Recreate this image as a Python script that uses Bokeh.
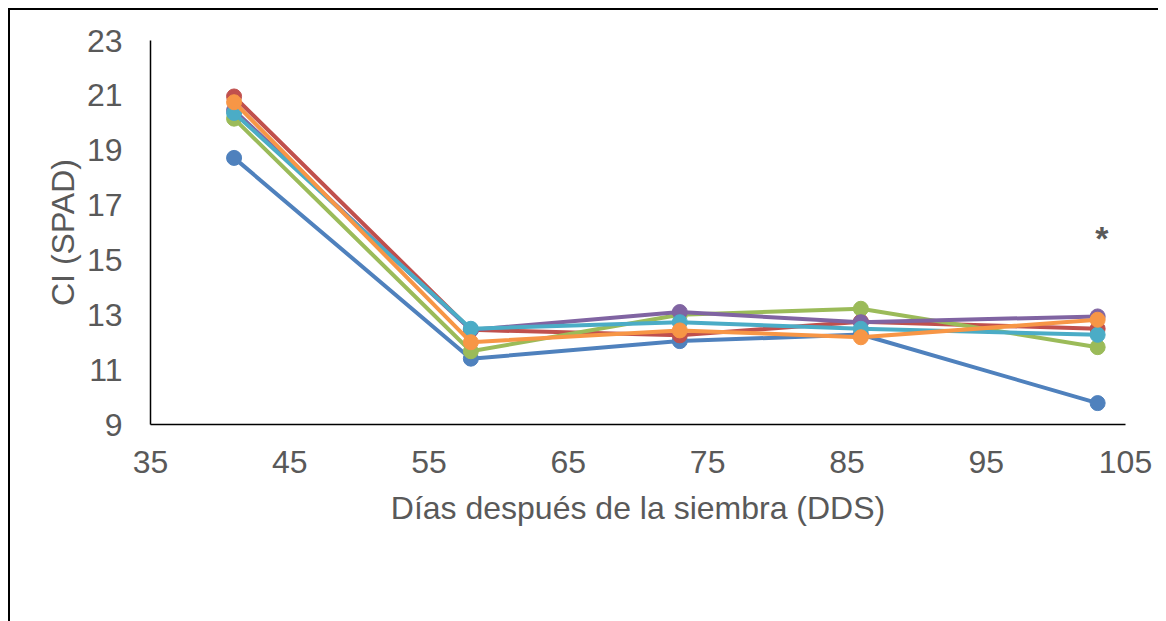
from bokeh.plotting import figure
from bokeh.models import Legend, LegendItem, FixedTicker, Range1d, ColumnDataSource
from bokeh.core.properties import value
from bokeh.embed import file_html
from bokeh.resources import INLINE

# ---- data ----
dds = [41, 58, 73, 86, 103]
series_names = ["T1", "T2", "T3", "T4", "T5", "T6"]
t1 = [18.72, 11.40, 12.04, 12.28, 9.78]
t2 = [20.96, 12.45, 12.25, 12.75, 12.49]
t3 = [20.15, 11.67, 13.00, 13.22, 11.82]
t4 = [20.45, 12.45, 13.10, 12.73, 12.94]
t5 = [20.36, 12.49, 12.73, 12.49, 12.27]
t6 = [20.75, 12.00, 12.43, 12.18, 12.82]
series_values = [t1, t2, t3, t4, t5, t6]
colors = ["#4F81BD", "#C0504D", "#9BBB59", "#8064A2", "#4BACC6", "#F79646"]
x_ticks = [35, 45, 55, 65, 75, 85, 95, 105]
y_ticks = [9, 11, 13, 15, 17, 19, 21, 23]
star_x = [103.3]
star_y = [15.8]
star_text = ["*"]

FONT = "Liberation Sans"
GRAY = "#595959"

p = figure(width=1148, height=603, output_backend="svg", toolbar_location=None,
           x_range=Range1d(35, 105), y_range=Range1d(9, 23),
           min_border_left=140, min_border_right=33, min_border_top=30,
           min_border_bottom=10)
p.frame_width = 975
p.frame_height = 384
p.styles = {"border-left": "2px solid #000000", "border-top": "2px solid #000000",
            "margin-left": "8px", "margin-top": "8px"}

p.xgrid.visible = False
p.ygrid.visible = False
p.outline_line_color = None
p.background_fill_color = "white"
p.border_fill_color = "white"

for ax in (p.xaxis[0], p.yaxis[0]):
    ax.major_tick_line_color = None
    ax.minor_tick_line_color = None
    ax.axis_line_color = "black"
    ax.axis_line_width = 1.5
    ax.major_label_text_font = FONT
    ax.major_label_text_font_size = "32px"
    ax.major_label_text_color = GRAY
    ax.axis_label_text_font = FONT
    ax.axis_label_text_font_size = "32px"
    ax.axis_label_text_color = GRAY
    ax.axis_label_text_font_style = "normal"

p.xaxis.ticker = FixedTicker(ticks=x_ticks)
p.yaxis.ticker = FixedTicker(ticks=y_ticks)
p.xaxis.axis_label = "Días después de la siembra (DDS)"
p.yaxis.axis_label = "CI (SPAD)"
p.xaxis.major_label_standoff = 20
p.xaxis.axis_label_standoff = 14
p.yaxis.major_label_standoff = 22
p.yaxis.axis_label_standoff = 3

items = []
for i, (name, vals, c) in enumerate(zip(series_names, series_values, colors)):
    src = ColumnDataSource(dict(x=dds, y=vals))
    r1 = p.line("x", "y", source=src, line_color=c, line_width=4)
    r2 = p.scatter("x", "y", source=src, size=15, fill_color=c, line_color=c)
    label = name + ("         " if i == len(series_names) - 1 else "")
    items.append(LegendItem(label=label, renderers=[r1, r2]))

star_src = ColumnDataSource(dict(x=star_x, y=star_y, t=star_text))
p.text("x", "y", text="t", source=star_src, text_font=value(FONT),
       text_font_size="34px", text_color=GRAY, text_align="center",
       text_baseline="alphabetic", text_font_style="bold")

legend = Legend(items=items, orientation="horizontal", location="center",
                glyph_width=53, glyph_height=37, label_standoff=5, spacing=24,
                label_text_font=FONT, label_text_font_size="32px",
                label_text_color=GRAY, border_line_color=None,
                background_fill_alpha=0, padding=4, margin=26)
p.add_layout(legend, "below")

open("out.html", "w").write(file_html(p, INLINE))
